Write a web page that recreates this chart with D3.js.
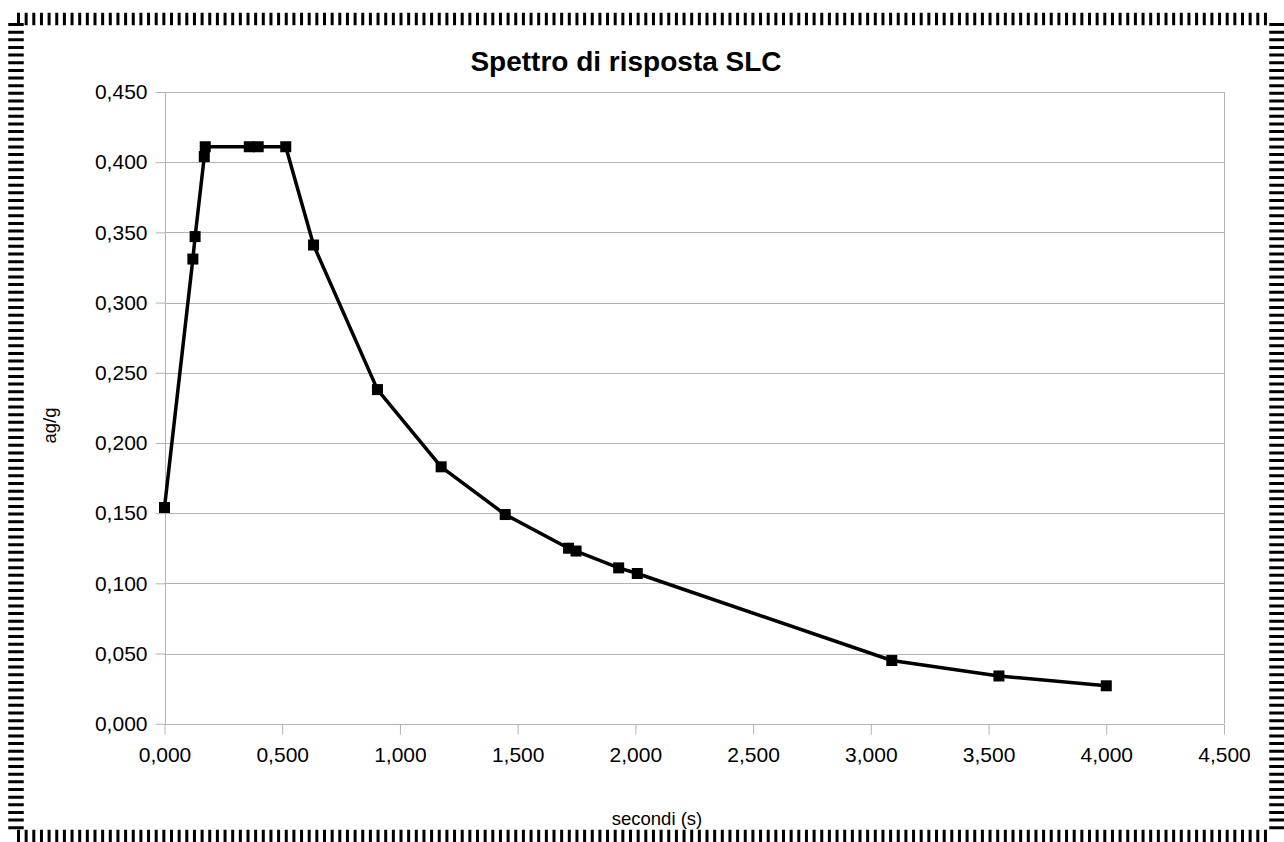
<!DOCTYPE html>
<html>
<head>
<meta charset="utf-8">
<script src="https://cdn.jsdelivr.net/npm/d3@7"></script>
<style>
  html, body { margin: 0; padding: 0; background: #ffffff; }
  svg { display: block; }
  text { font-family: "Liberation Sans", Arial, sans-serif; fill: #000; }
</style>
</head>
<body>
<svg id="chart" width="1284" height="842"></svg>
<script>
// Response spectrum SLC: period T (s) vs spectral acceleration ag/g
const periods = [0.000, 0.1205, 0.130, 0.169, 0.173, 0.360, 0.398, 0.515, 0.633, 0.9045,
                 1.175, 1.447, 1.716, 1.748, 1.929, 2.008, 3.089, 3.544, 4.000];
const accel   = [0.154, 0.331, 0.347, 0.404, 0.411, 0.411, 0.411, 0.411, 0.341, 0.238,
                 0.183, 0.149, 0.125, 0.123, 0.111, 0.107, 0.045, 0.034, 0.027];

const xTicks = [0, 0.5, 1.0, 1.5, 2.0, 2.5, 3.0, 3.5, 4.0, 4.5];
const yTicks = [0, 0.05, 0.10, 0.15, 0.20, 0.25, 0.30, 0.35, 0.40, 0.45];

const titleText = "Spettro di risposta SLC";
const xTitle = "secondi (s)";
const yTitle = "ag/g";

const W = 1284, H = 842;
const plot = { left: 164.5, top: 92, right: 1224, bottom: 723.7 };

const svg = d3.select("#chart");

// Italian number format: comma decimal separator, three decimals
const it = d3.formatLocale({ decimal: ",", thousands: ".", grouping: [3], currency: ["€", ""] });
const fmt = it.format(".3f");

const x = d3.scaleLinear().domain([0, 4.5]).range([plot.left, plot.right]);
const y = d3.scaleLinear().domain([0, 0.45]).range([plot.bottom, plot.top]);

// Hatched frame around the whole picture
const frame = svg.append("g").attr("stroke", "#000").attr("fill", "none");
frame.append("line").attr("x1", 17).attr("x2", 1270).attr("y1", 19).attr("y2", 19)
  .attr("stroke-width", 12.5).attr("stroke-dasharray", "3 4.65");
frame.append("line").attr("x1", 17).attr("x2", 1270).attr("y1", 836).attr("y2", 836)
  .attr("stroke-width", 12.5).attr("stroke-dasharray", "3 4.65");
frame.append("line").attr("x1", 16).attr("x2", 16).attr("y1", 23).attr("y2", 830)
  .attr("stroke-width", 15.5).attr("stroke-dasharray", "3 4.65");
frame.append("line").attr("x1", 1277).attr("x2", 1277).attr("y1", 23).attr("y2", 830)
  .attr("stroke-width", 15.5).attr("stroke-dasharray", "3 4.65");

// Horizontal gridlines
svg.append("g")
  .selectAll("line")
  .data(yTicks)
  .join("line")
  .attr("x1", plot.left).attr("x2", plot.right)
  .attr("y1", d => Math.round(y(d)) + 0.5).attr("y2", d => Math.round(y(d)) + 0.5)
  .attr("stroke", "#b3b3b3").attr("stroke-width", 1);

// Plot area right border
svg.append("line")
  .attr("x1", Math.round(plot.right) + 0.5).attr("x2", Math.round(plot.right) + 0.5)
  .attr("y1", plot.top).attr("y2", plot.bottom)
  .attr("stroke", "#b3b3b3");

// Axes
const xAxis = d3.axisBottom(x).tickValues(xTicks).tickFormat(fmt).tickSize(10).tickPadding(13);
const yAxis = d3.axisLeft(y).tickValues(yTicks).tickFormat(fmt).tickSize(10).tickPadding(8);

const gx = svg.append("g").attr("transform", `translate(0,${Math.round(plot.bottom) + 0.5})`).call(xAxis);
const gy = svg.append("g").attr("transform", `translate(${Math.round(plot.left) + 0.5},0)`).call(yAxis);

[gx, gy].forEach(g => {
  g.select(".domain").attr("stroke", "#b3b3b3").attr("stroke-width", 1);
  g.selectAll(".tick line").attr("stroke", "#b3b3b3");
  g.selectAll(".tick text")
    .attr("font-family", "Liberation Sans, Arial, sans-serif")
    .attr("font-size", 21).attr("fill", "#000");
});
gx.select(".domain").attr("d", `M${plot.left},0H${plot.right}`);
gy.select(".domain").attr("d", `M0,${plot.bottom}V${plot.top}`);

// Spectrum line and markers
const pts = periods.map((t, i) => ({ t, a: accel[i] }));

svg.append("path")
  .datum(pts)
  .attr("fill", "none")
  .attr("stroke", "#000")
  .attr("stroke-width", 3.5)
  .attr("stroke-linejoin", "round")
  .attr("d", d3.line().x(d => x(d.t)).y(d => y(d.a)));

const ms = 11;
svg.append("g")
  .selectAll("rect")
  .data(pts)
  .join("rect")
  .attr("x", d => x(d.t) - ms / 2)
  .attr("y", d => y(d.a) - ms / 2)
  .attr("width", ms).attr("height", ms)
  .attr("fill", "#000");

// Titles
svg.append("text")
  .attr("x", 626).attr("y", 71)
  .attr("text-anchor", "middle")
  .attr("font-size", 28).attr("font-weight", "bold")
  .text(titleText);

svg.append("text")
  .attr("x", 657).attr("y", 825)
  .attr("text-anchor", "middle")
  .attr("font-size", 18.5)
  .text(xTitle);

svg.append("text")
  .attr("transform", "translate(56,425.5) rotate(-90)")
  .attr("text-anchor", "middle")
  .attr("font-size", 18.5)
  .text(yTitle);
</script>
</body>
</html>
